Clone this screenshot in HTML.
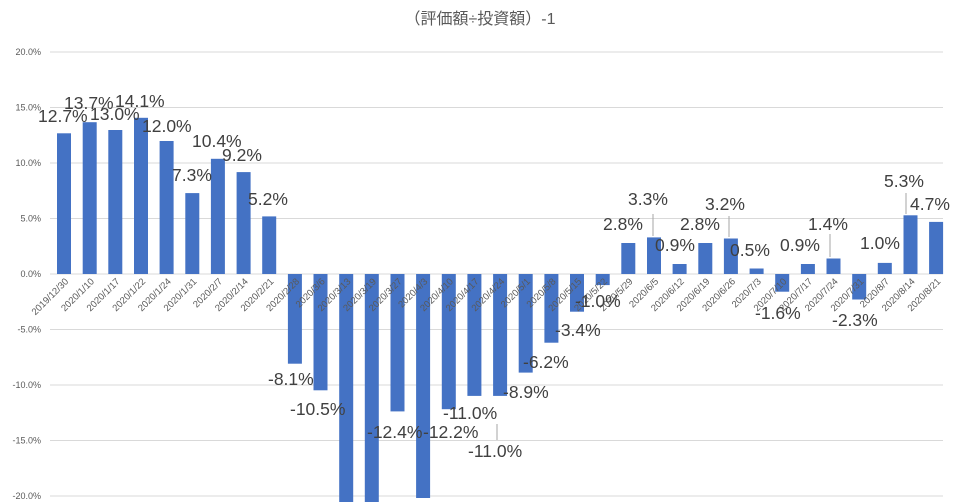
<!DOCTYPE html>
<html><head><meta charset="utf-8"><style>
body{margin:0;background:#fff;}
svg{display:block;font-family:"Liberation Sans","Noto Sans CJK JP",sans-serif;}
.g{stroke:#d9d9d9;stroke-width:1}
.ax{font-size:9px;fill:#595959}
.dl{font-size:17.5px;fill:#404040}
.tk{font-size:9.5px;fill:#595959}
</style></head><body>
<svg width="960" height="502" viewBox="0 0 960 502">
<rect width="960" height="502" fill="#fff"/>
<text x="480" y="24" text-anchor="middle" font-size="16" fill="#595959">（評価額÷投資額）-1</text>
<g>
<line class="g" x1="50" x2="943" y1="52" y2="52"/>
<line class="g" x1="50" x2="943" y1="107.5" y2="107.5"/>
<line class="g" x1="50" x2="943" y1="163" y2="163"/>
<line class="g" x1="50" x2="943" y1="218.5" y2="218.5"/>
<line class="g" x1="50" x2="943" y1="274" y2="274"/>
<line class="g" x1="50" x2="943" y1="329.5" y2="329.5"/>
<line class="g" x1="50" x2="943" y1="385" y2="385"/>
<line class="g" x1="50" x2="943" y1="440.5" y2="440.5"/>
<line class="g" x1="50" x2="943" y1="496" y2="496"/>
</g>
<g class="ax" text-anchor="end">
<text x="41" y="55">20.0%</text>
<text x="41" y="110.5">15.0%</text>
<text x="41" y="166">10.0%</text>
<text x="41" y="221.5">5.0%</text>
<text x="41" y="277">0.0%</text>
<text x="41" y="332.5">-5.0%</text>
<text x="41" y="388">-10.0%</text>
<text x="41" y="443.5">-15.0%</text>
<text x="41" y="499">-20.0%</text>
</g>
<g fill="#4472c4">
<rect x="57" y="133.3" width="14" height="140.7"/>
<rect x="82.7" y="122.2" width="14" height="151.8"/>
<rect x="108.3" y="130" width="14" height="144"/>
<rect x="134" y="117.8" width="14" height="156.2"/>
<rect x="159.6" y="141" width="14" height="133"/>
<rect x="185.3" y="193.1" width="14" height="80.9"/>
<rect x="210.9" y="158.8" width="14" height="115.2"/>
<rect x="236.6" y="172.1" width="14" height="101.9"/>
<rect x="262.2" y="216.4" width="14" height="57.6"/>
<rect x="287.9" y="274" width="14" height="89.7"/>
<rect x="313.5" y="274" width="14" height="116.3"/>
<rect x="339.2" y="274" width="14" height="230"/>
<rect x="364.8" y="274" width="14" height="230"/>
<rect x="390.5" y="274" width="14" height="137.4"/>
<rect x="416.1" y="274" width="14" height="224"/>
<rect x="441.8" y="274" width="14" height="135.2"/>
<rect x="467.4" y="274" width="14" height="121.9"/>
<rect x="493.1" y="274" width="14" height="121.9"/>
<rect x="518.7" y="274" width="14" height="98.6"/>
<rect x="544.4" y="274" width="14" height="68.7"/>
<rect x="570" y="274" width="14" height="37.7"/>
<rect x="595.7" y="274" width="14" height="11.1"/>
<rect x="621.3" y="243" width="14" height="31"/>
<rect x="647" y="237.4" width="14" height="36.6"/>
<rect x="672.6" y="264" width="14" height="10"/>
<rect x="698.3" y="243" width="14" height="31"/>
<rect x="723.9" y="238.5" width="14" height="35.5"/>
<rect x="749.6" y="268.5" width="14" height="5.5"/>
<rect x="775.2" y="274" width="14" height="17.7"/>
<rect x="800.9" y="264" width="14" height="10"/>
<rect x="826.5" y="258.5" width="14" height="15.5"/>
<rect x="852.2" y="274" width="14" height="25.5"/>
<rect x="877.8" y="262.9" width="14" height="11.1"/>
<rect x="903.5" y="215.3" width="14" height="58.7"/>
<rect x="929.1" y="221.9" width="14" height="52.1"/>
</g>
<g class="tk" text-anchor="end">
<text transform="translate(69,282) rotate(-45)">2019/12/30</text>
<text transform="translate(94.7,282) rotate(-45)">2020/1/10</text>
<text transform="translate(120.3,282) rotate(-45)">2020/1/17</text>
<text transform="translate(146,282) rotate(-45)">2020/1/22</text>
<text transform="translate(171.6,282) rotate(-45)">2020/1/24</text>
<text transform="translate(197.3,282) rotate(-45)">2020/1/31</text>
<text transform="translate(222.9,282) rotate(-45)">2020/2/7</text>
<text transform="translate(248.6,282) rotate(-45)">2020/2/14</text>
<text transform="translate(274.2,282) rotate(-45)">2020/2/21</text>
<text transform="translate(299.9,282) rotate(-45)">2020/2/28</text>
<text transform="translate(325.5,282) rotate(-45)">2020/3/6</text>
<text transform="translate(351.2,282) rotate(-45)">2020/3/13</text>
<text transform="translate(376.8,282) rotate(-45)">2020/3/19</text>
<text transform="translate(402.5,282) rotate(-45)">2020/3/27</text>
<text transform="translate(428.1,282) rotate(-45)">2020/4/3</text>
<text transform="translate(453.8,282) rotate(-45)">2020/4/10</text>
<text transform="translate(479.4,282) rotate(-45)">2020/4/17</text>
<text transform="translate(505.1,282) rotate(-45)">2020/4/24</text>
<text transform="translate(530.7,282) rotate(-45)">2020/5/1</text>
<text transform="translate(556.4,282) rotate(-45)">2020/5/8</text>
<text transform="translate(582,282) rotate(-45)">2020/5/15</text>
<text transform="translate(607.7,282) rotate(-45)">2020/5/22</text>
<text transform="translate(633.3,282) rotate(-45)">2020/5/29</text>
<text transform="translate(659,282) rotate(-45)">2020/6/5</text>
<text transform="translate(684.6,282) rotate(-45)">2020/6/12</text>
<text transform="translate(710.3,282) rotate(-45)">2020/6/19</text>
<text transform="translate(735.9,282) rotate(-45)">2020/6/26</text>
<text transform="translate(761.6,282) rotate(-45)">2020/7/3</text>
<text transform="translate(787.2,282) rotate(-45)">2020/7/10</text>
<text transform="translate(812.9,282) rotate(-45)">2020/7/17</text>
<text transform="translate(838.5,282) rotate(-45)">2020/7/24</text>
<text transform="translate(864.2,282) rotate(-45)">2020/7/31</text>
<text transform="translate(889.8,282) rotate(-45)">2020/8/7</text>
<text transform="translate(915.5,282) rotate(-45)">2020/8/14</text>
<text transform="translate(941.1,282) rotate(-45)">2020/8/21</text>
</g>
<g stroke="#a6a6a6" stroke-width="1">
<line x1="653" y1="214" x2="653" y2="236"/>
<line x1="729" y1="216" x2="729" y2="237"/>
<line x1="830" y1="234" x2="830" y2="257"/>
<line x1="906" y1="193" x2="906" y2="214"/>
<line x1="497" y1="424" x2="497" y2="440"/>
</g>
<g class="dl">
<text x="38" y="122">12.7%</text>
<text x="64" y="109">13.7%</text>
<text x="90" y="120">13.0%</text>
<text x="115" y="107">14.1%</text>
<text x="142" y="132">12.0%</text>
<text x="172" y="181">7.3%</text>
<text x="192" y="147">10.4%</text>
<text x="222" y="161">9.2%</text>
<text x="248" y="205">5.2%</text>
<text x="268" y="385">-8.1%</text>
<text x="290" y="415">-10.5%</text>
<text x="367" y="438">-12.4%</text>
<text x="423" y="438">-12.2%</text>
<text x="443" y="419">-11.0%</text>
<text x="468" y="457">-11.0%</text>
<text x="503" y="398">-8.9%</text>
<text x="523" y="368">-6.2%</text>
<text x="555" y="336">-3.4%</text>
<text x="575" y="307">-1.0%</text>
<text x="603" y="230">2.8%</text>
<text x="628" y="205">3.3%</text>
<text x="655" y="251">0.9%</text>
<text x="680" y="230">2.8%</text>
<text x="705" y="210">3.2%</text>
<text x="730" y="256">0.5%</text>
<text x="755" y="319">-1.6%</text>
<text x="780" y="251">0.9%</text>
<text x="808" y="230">1.4%</text>
<text x="832" y="326">-2.3%</text>
<text x="860" y="249">1.0%</text>
<text x="884" y="187">5.3%</text>
<text x="910" y="210">4.7%</text>
</g>
</svg>
</body></html>
